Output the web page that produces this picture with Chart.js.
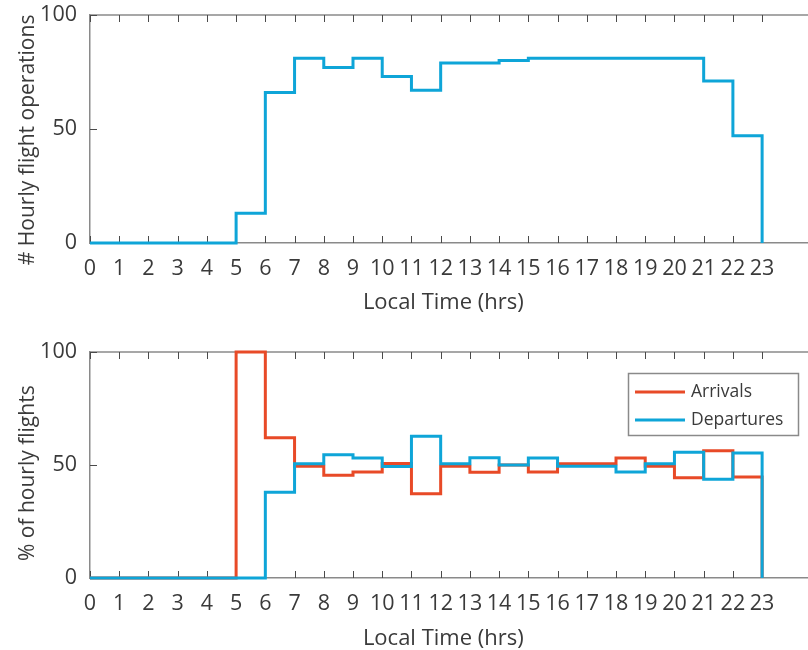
<!DOCTYPE html>
<html>
<head>
<meta charset="utf-8">
<script src="https://cdn.jsdelivr.net/npm/chart.js@4"></script>
<style>
  body { margin: 0; background: #fff; overflow: hidden; }
  .plot { position: absolute; left: 0; width: 808px; }
</style>
</head>
<body>
<div class="plot" style="top:-12px"><canvas id="opsChart" width="808" height="337"></canvas></div>
<div class="plot" style="top:325px"><canvas id="shareChart" width="808" height="325"></canvas></div>
<script>
// hour of day, 0..23
const hours = [0, 1, 2, 3, 4, 5, 6, 7, 8, 9, 10, 11, 12, 13, 14, 15, 16, 17, 18, 19, 20, 21, 22, 23];
const hourlyOps = [0, 0, 0, 0, 0, 13, 66, 81, 77, 81, 73, 67, 79, 79, 80, 81, 81, 81, 81, 81, 81, 71, 47, 0];
const arrivalsPct = [0, 0, 0, 0, 0, 100, 62.1, 49.4, 45.5, 46.9, 50.7, 37.3, 49.4, 46.8, 50, 46.9, 50.6, 50.6, 53.1, 49.4, 44.4, 56.3, 44.7, 0];
const departuresPct = [0, 0, 0, 0, 0, 0, 37.9, 50.6, 54.5, 53.1, 49.3, 62.7, 50.6, 53.2, 50, 53.1, 49.4, 49.4, 46.9, 50.6, 55.6, 43.7, 55.3, 0];
const yTicks = [0, 50, 100];

const BLUE = '#0ea5d8';
const RED = '#e84a27';
const TEXT = '#3a3a3a';
const AXIS = '#8a8a8a';
const TICK = '#4a4a4a';
const FONT = 'Open Sans';

const toPoints = (ys) => hours.map((h, i) => ({ x: h, y: ys[i] }));

// MATLAB-style box: top edge plus short ticks pointing into the axes
const innerTicks = {
    id: 'innerTicks',
    beforeDatasetsDraw(chart) {
        const { ctx, chartArea: a, scales: { x, y } } = chart;
        const len = 7;
        ctx.save();
        ctx.strokeStyle = AXIS;
        ctx.lineWidth = 1.5;
        ctx.beginPath();
        ctx.moveTo(a.left, a.top);
        ctx.lineTo(a.right, a.top);
        ctx.stroke();
        ctx.strokeStyle = TICK;
        ctx.lineWidth = 1;
        ctx.beginPath();
        hours.forEach(h => {
            const px = Math.round(x.getPixelForValue(h)) + 0.5;
            ctx.moveTo(px, a.bottom);
            ctx.lineTo(px, a.bottom - len);
            ctx.moveTo(px, a.top);
            ctx.lineTo(px, a.top + len);
        });
        yTicks.forEach(v => {
            const py = Math.round(y.getPixelForValue(v)) + 0.5;
            ctx.moveTo(a.left, py);
            ctx.lineTo(a.left + len, py);
        });
        ctx.stroke();
        ctx.restore();
    }
};

// boxed legend inside the upper right of the axes
const boxLegend = {
    id: 'boxLegend',
    afterDraw(chart, args, opts) {
        if (!opts.show) return;
        const { ctx } = chart;
        const left = 628, top = 48, w = 170, h = 62;
        ctx.save();
        ctx.fillStyle = '#fff';
        ctx.fillRect(left, top, w, h);
        ctx.strokeStyle = AXIS;
        ctx.lineWidth = 1.5;
        ctx.strokeRect(left + 0.5, top + 0.5, w, h);
        ctx.font = `17.5px "${FONT}"`;
        ctx.textBaseline = 'middle';
        chart.data.datasets.forEach((ds, i) => {
            const cy = top + 19 + i * 28;
            ctx.strokeStyle = ds.borderColor;
            ctx.lineWidth = 3;
            ctx.beginPath();
            ctx.moveTo(left + 7, cy);
            ctx.lineTo(left + 57, cy);
            ctx.stroke();
            ctx.fillStyle = TEXT;
            ctx.fillText(ds.label, left + 63, cy);
        });
        ctx.restore();
    }
};

function makePlot(canvasId, datasets, yTitle, dims, showLegend) {
    const canvas = document.getElementById(canvasId);
    return new Chart(canvas.getContext('2d'), {
        type: 'line',
        data: { datasets: datasets },
        options: {
            responsive: false,
            animation: false,
            devicePixelRatio: 1,
            layout: { padding: { top: dims.top, left: 0, right: 0, bottom: 0 } },
            elements: { point: { radius: 0 } },
            plugins: {
                legend: { display: false },
                tooltip: { enabled: false },
                boxLegend: { show: showLegend }
            },
            scales: {
                x: {
                    type: 'linear',
                    min: 0,
                    max: 24.57,
                    afterBuildTicks: (scale) => { scale.ticks = hours.map(v => ({ value: v })); },
                    afterFit: (scale) => { scale.height = canvas.height - dims.bottom; },
                    grid: { display: false, drawTicks: false },
                    border: { display: true, color: AXIS, width: 1.5 },
                    ticks: {
                        color: TEXT,
                        padding: 13,
                        maxRotation: 0,
                        autoSkip: false,
                        font: { family: FONT, size: 21.5 }
                    },
                    title: {
                        display: true,
                        // trailing spaces nudge the label left of the axis centre
                        text: 'Local Time (hrs)  ',
                        color: TEXT,
                        font: { family: FONT, size: 22, lineHeight: 1 },
                        padding: { top: 0, bottom: dims.titlePad }
                    }
                },
                y: {
                    min: 0,
                    max: 100,
                    afterBuildTicks: (scale) => { scale.ticks = yTicks.map(v => ({ value: v })); },
                    afterFit: (scale) => { scale.width = 90; },
                    grid: { display: false, drawTicks: false },
                    border: { display: true, color: AXIS, width: 1.5 },
                    ticks: {
                        color: TEXT,
                        padding: 13,
                        font: { family: FONT, size: 21.5 }
                    },
                    title: {
                        display: true,
                        text: yTitle,
                        color: TEXT,
                        font: { family: FONT, size: 21 },
                        padding: { top: 15, bottom: 0 }
                    }
                }
            }
        },
        plugins: [innerTicks, boxLegend]
    });
}

const lineStyle = { stepped: 'before', borderWidth: 3, fill: false, clip: false, pointRadius: 0 };

// trailing spaces push the rotated labels a little below the axis centre
makePlot('opsChart', [
    { label: 'Operations', data: toPoints(hourlyOps), borderColor: BLUE, ...lineStyle }
], '# Hourly flight operations    ', { top: 27, bottom: 255, titlePad: 11.5 }, false);

// departures are drawn over arrivals
makePlot('shareChart', [
    { label: 'Arrivals', data: toPoints(arrivalsPct), borderColor: RED, order: 1, ...lineStyle },
    { label: 'Departures', data: toPoints(departuresPct), borderColor: BLUE, order: 0, ...lineStyle }
], '% of hourly flights   ', { top: 27, bottom: 253, titlePad: 0 }, true);
</script>
</body>
</html>
